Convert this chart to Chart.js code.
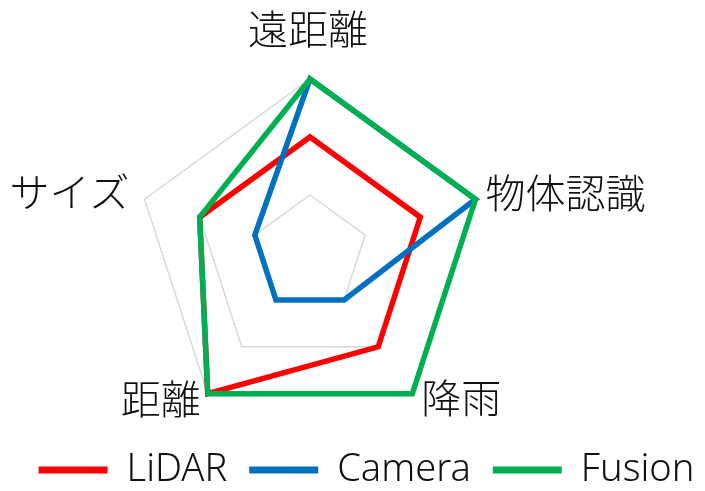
<!doctype html>
<html>
<head>
  <meta charset="utf-8">
  <title>LiDAR / Camera / Fusion</title>
  <script src="https://cdn.jsdelivr.net/npm/chart.js@4.4.1/dist/chart.umd.min.js"></script>
  <style>
    html,body{margin:0;padding:0;background:#fff;}
    #wrap{width:705px;height:491px;position:relative;}
  </style>
</head>
<body>
<div id="wrap"><canvas id="radar"></canvas></div>

<script>
// axes (clockwise from top)
const categories = ['遠距離', '物体認識', '降雨', '距離', 'サイズ'];
const lidar  = [2, 2, 2, 3, 2];
const camera = [3, 3, 1, 1, 1];
const fusion = [3, 3, 3, 3, 2];
const seriesNames = ['LiDAR', 'Camera', 'Fusion'];

const latinFont = '"Noto Sans", "Noto Sans CJK JP", sans-serif';
const cjkFont   = '"Noto Sans CJK JP", "Noto Sans", sans-serif';

// point labels drawn by hand, placed around the outer vertex like the original
const labelPlace = [
  {align:'center', dx:-2,  dy:-50},
  {align:'left',   dx:10,  dy:-6},
  {align:'left',   dx:9,   dy:4},
  {align:'right',  dx:-7,  dy:5},
  {align:'right',  dx:-15, dy:-7}
];
const axisLabels = {
  id: 'axisLabels',
  afterDraw(chart) {
    const s = chart.scales.r, ctx = chart.ctx;
    ctx.save();
    ctx.font = '300 40px ' + cjkFont;
    ctx.fillStyle = '#111';
    ctx.textBaseline = 'middle';
    categories.forEach((txt, i) => {
      const p = s.getPointPositionForValue(i, s.max);
      ctx.textAlign = labelPlace[i].align;
      ctx.fillText(txt, p.x + labelPlace[i].dx, p.y + labelPlace[i].dy);
    });
    ctx.restore();
  }
};

const line = (label, data, color, order) => ({
  label, data, order,
  borderColor: color, backgroundColor: color,
  borderWidth: 5.5, fill: false,
  pointRadius: 0, pointHoverRadius: 0,
  borderJoinStyle: 'miter'
});

new Chart(document.getElementById('radar'), {
  type: 'radar',
  data: {
    labels: categories,
    datasets: [
      line(seriesNames[0], lidar,  '#FF0000', 3),
      line(seriesNames[1], camera, '#0070C0', 2),
      line(seriesNames[2], fusion, '#00B050', 1)
    ]
  },
  options: {
    responsive: true,
    maintainAspectRatio: false,
    animation: false,
    // legend sits a bit right of centre in the original
    layout: {padding: {top: 0, bottom: -8, left: 14, right: -14}},
    scales: {
      r: {
        min: 0, max: 3,
        ticks: {display: false, stepSize: 1},
        angleLines: {display: false},
        grid: {color: '#d9d9d9', lineWidth: 1.5},
        pointLabels: {display: false},
        afterFit(s) { s.xCenter = 310; s.yCenter = 253; s.drawingArea = 174; }
      }
    },
    plugins: {
      tooltip: {enabled: false},
      legend: {
        position: 'bottom',
        labels: {
          font: {family: latinFont, size: 38, weight: 300},
          color: '#111',
          boxWidth: 69,
          boxHeight: 7,
          padding: 22,
          sort: (a, b) => a.datasetIndex - b.datasetIndex,
          generateLabels(chart) {
            const items = Chart.defaults.plugins.legend.labels.generateLabels(chart);
            items.forEach(it => { it.fillStyle = it.strokeStyle; it.lineWidth = 0; });
            return items;
          }
        }
      }
    }
  },
  plugins: [axisLabels]
});
</script>
</body>
</html>
